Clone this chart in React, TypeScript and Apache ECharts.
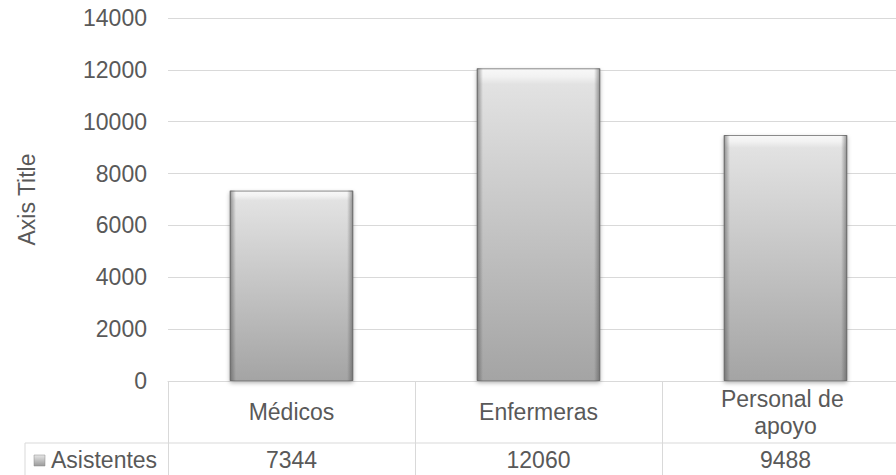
import React, { useEffect, useRef } from "react";
import * as echarts from "echarts";

const categories = ["Médicos", "Enfermeras", "Personal de apoyo"];
const seriesName = "Asistentes";
const values = [7344, 12060, 9488];
const yTicks = { min: 0, max: 14000, interval: 2000 };
const axisTitle = "Axis Title";

const FONT = 'Arial, "Liberation Sans", sans-serif';
const TEXT = "#595959";
const LINE = "#d9d9d9";
const FS = 23;

export default function App() {
  const ref = useRef<HTMLDivElement>(null);
  useEffect(() => {
    const chart = echarts.init(ref.current!, null, { renderer: "svg" });
    const barGrad = new echarts.graphic.LinearGradient(0, 0, 0, 1, [
      { offset: 0, color: "#f8f8f8" },
      { offset: 0.025, color: "#f2f2f2" },
      { offset: 0.05, color: "#e2e2e2" },
      { offset: 1, color: "#a4a4a4" },
    ]);
    const edgeGrad = new echarts.graphic.LinearGradient(0, 0, 1, 0, [
      { offset: 0, color: "rgba(80,80,80,0.6)" },
      { offset: 0.05, color: "rgba(80,80,80,0.0)" },
      { offset: 0.95, color: "rgba(80,80,80,0.0)" },
      { offset: 1, color: "rgba(80,80,80,0.6)" },
    ]);
    chart.setOption({
      animation: false,
      textStyle: { fontFamily: FONT, color: TEXT },
      grid: {
        left: 168,
        top: 18,
        width: 741,
        height: 363,
        containLabel: false,
        outerBoundsMode: "none",
      },
      xAxis: [
        {
          type: "category",
          data: categories,
          position: "bottom",
          axisLine: { show: true, lineStyle: { color: LINE, width: 1 } },
          axisTick: { show: true, length: 94, lineStyle: { color: LINE, width: 1 } },
          axisLabel: {
            interval: 0,
            margin: 31,
            verticalAlign: "middle",
            fontSize: FS,
            lineHeight: 27,
            color: TEXT,
            fontFamily: FONT,
            width: 170,
            overflow: "break",
          },
        },
        {
          type: "category",
          data: categories,
          position: "bottom",
          offset: 62,
          axisLine: { show: false },
          axisTick: { show: false },
          axisLabel: {
            interval: 0,
            margin: 17,
            verticalAlign: "middle",
            fontSize: FS,
            color: TEXT,
            fontFamily: FONT,
            formatter: (_v: string, i: number) => String(values[i]),
          },
        },
      ],
      yAxis: {
        type: "value",
        min: yTicks.min,
        max: yTicks.max,
        interval: yTicks.interval,
        name: axisTitle,
        nameLocation: "middle",
        nameGap: 130,
        nameTextStyle: { fontSize: FS, color: TEXT, fontFamily: FONT },
        axisLine: { show: false },
        axisTick: { show: false },
        axisLabel: {
          margin: 21,
          fontSize: FS,
          color: TEXT,
          fontFamily: FONT,
          formatter: (v: number) => String(v),
        },
        splitLine: { lineStyle: { color: LINE, width: 1 } },
      },
      series: [
        {
          name: seriesName,
          type: "bar",
          data: values,
          barWidth: "50%",
          itemStyle: {
            color: barGrad,
            borderColor: "#8a8a8a",
            borderWidth: 1,
            shadowColor: "rgba(0,0,0,0.3)",
            shadowBlur: 4,
            shadowOffsetY: 2,
          },
        },
        {
          name: seriesName + "-edge",
          type: "bar",
          data: values,
          barWidth: "50%",
          barGap: "-100%",
          silent: true,
          itemStyle: { color: edgeGrad },
        },
      ],
      graphic: [
        {
          type: "line",
          shape: { x1: 25, y1: 443, x2: 896, y2: 443 },
          style: { stroke: LINE, lineWidth: 1 },
        },
        {
          type: "line",
          shape: { x1: 25, y1: 443, x2: 25, y2: 475 },
          style: { stroke: LINE, lineWidth: 1 },
        },
        {
          type: "rect",
          shape: { x: 34, y: 455, width: 11, height: 11 },
          style: {
            fill: new echarts.graphic.LinearGradient(0, 0, 0, 1, [
              { offset: 0, color: "#e6e6e6" },
              { offset: 1, color: "#9a9a9a" },
            ]),
            stroke: "#8a8a8a",
            lineWidth: 0.5,
          },
        },
        {
          type: "text",
          x: 51,
          y: 460,
          style: {
            text: seriesName,
            fontSize: FS,
            fontFamily: FONT,
            fill: TEXT,
            verticalAlign: "middle",
          },
        },
      ],
    });
    return () => chart.dispose();
  }, []);
  return (
    <div
      ref={ref}
      style={{ position: "fixed", left: 0, top: 0, width: 896, height: 475, background: "#fff" }}
    />
  );
}
